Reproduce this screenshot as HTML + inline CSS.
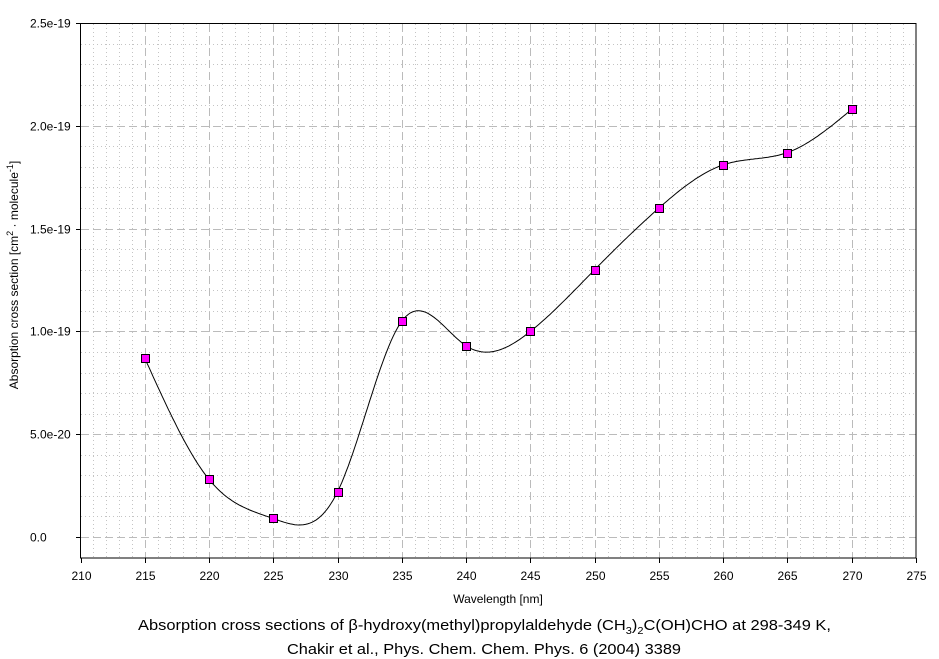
<!DOCTYPE html>
<html><head><meta charset="utf-8"><style>
html,body{margin:0;padding:0;background:#fff;}
svg{display:block;font-family:"Liberation Sans",Arial,sans-serif;}
</style></head><body>
<svg id="s" width="939" height="659" xmlns="http://www.w3.org/2000/svg">
<rect width="939" height="659" fill="#fff"/>
<g id="grid"></g>
<rect x="80.5" y="23.5" width="835.5" height="534.5" fill="none" stroke="#000" stroke-width="1"/>
<g id="ticks" font-size="12" fill="#000"></g>
<path id="curve" fill="none" stroke="#000" stroke-width="1"/>
<g id="marks"></g>
<text x="0" y="0" font-size="12" transform="translate(18,275) rotate(-90)" text-anchor="middle">Absorption cross section [cm<tspan font-size="9" dy="-5">2</tspan><tspan dy="5"> · molecule</tspan><tspan font-size="9" dy="-5">-1</tspan><tspan dy="5">]</tspan></text>
<text x="498" y="603" font-size="12" text-anchor="middle">Wavelength [nm]</text>
<text x="138" y="630" font-size="15" textLength="693" lengthAdjust="spacingAndGlyphs">Absorption cross sections of β-hydroxy(methyl)propylaldehyde (CH<tspan font-size="10" dy="4">3</tspan><tspan dy="-4">)</tspan><tspan font-size="10" dy="4">2</tspan><tspan dy="-4">C(OH)CHO at 298-349 K,</tspan></text>
<text x="484" y="654" font-size="15" text-anchor="middle" textLength="394" lengthAdjust="spacingAndGlyphs">Chakir et al., Phys. Chem. Chem. Phys. 6 (2004) 3389</text>
</svg>
<script>
var NS="http://www.w3.org/2000/svg";
function X(v){return 80.5+(v-210)*(835.5/65);}
function Y(v){return 537-v/2.5e-19*514;}
function el(p,t,a,txt){var e=document.createElementNS(NS,t);for(var k in a)e.setAttribute(k,a[k]);if(txt!==undefined)e.textContent=txt;document.getElementById(p).appendChild(e);return e;}
for(var w=211;w<275;w++){if(w%5==0)continue;var x=Math.round(X(w))+0.5;el("grid","line",{x1:x,x2:x,y1:24,y2:558,stroke:"#c4c4c4","stroke-dasharray":"1,3"});}
for(var i=-1;i<=24;i++){if(i%5==0)continue;var y=Math.round(Y(i*1e-20))+0.5;if(y<24||y>558)continue;el("grid","line",{x1:81,x2:916,y1:y,y2:y,stroke:"#c4c4c4","stroke-dasharray":"1,3"});}
for(var w=215;w<275;w+=5){var x=Math.round(X(w))+0.5;el("grid","line",{x1:x,x2:x,y1:24,y2:558,stroke:"#bbb","stroke-dasharray":"8,4"});}
for(var i=0;i<5;i++){var y=Math.round(Y(i*5e-20))+0.5;el("grid","line",{x1:81,x2:916,y1:y,y2:y,stroke:"#bbb","stroke-dasharray":"8,4"});}
for(var w=210;w<=275;w+=5){var x=Math.round(X(w))+0.5;el("ticks","line",{x1:x,x2:x,y1:558,y2:563,stroke:"#000"});el("ticks","text",{x:x,y:580,"text-anchor":"middle"},String(w));}
var yl=["0.0","5.0e-20","1.0e-19","1.5e-19","2.0e-19","2.5e-19"];
for(var i=0;i<=5;i++){var y=Math.round(Y(i*5e-20))+0.5;el("ticks","line",{x1:76,x2:80,y1:y,y2:y,stroke:"#000"});el("ticks","text",{x:30,y:y+4,"text-anchor":"start"},yl[i]);}
var xs=[215,220,225,230,235,240,245,250,255,260,265,270];
var ys=[8.7,2.8,0.9,2.2,10.5,9.3,10.0,13.0,16.0,18.1,18.7,20.8].map(function(v){return v*1e-20;});
var n=xs.length,h=[],al=[],l=[1],mu=[0],z=[0],c=new Array(n).fill(0),b=[],d=[];
for(var i=0;i<n-1;i++)h[i]=xs[i+1]-xs[i];
for(var i=1;i<n-1;i++)al[i]=3/h[i]*(ys[i+1]-ys[i])-3/h[i-1]*(ys[i]-ys[i-1]);
for(var i=1;i<n-1;i++){l[i]=2*(xs[i+1]-xs[i-1])-h[i-1]*mu[i-1];mu[i]=h[i]/l[i];z[i]=(al[i]-h[i-1]*z[i-1])/l[i];}
l[n-1]=1;z[n-1]=0;c[n-1]=0;
for(var j=n-2;j>=0;j--){c[j]=z[j]-mu[j]*c[j+1];b[j]=(ys[j+1]-ys[j])/h[j]-h[j]*(c[j+1]+2*c[j])/3;d[j]=(c[j+1]-c[j])/(3*h[j]);}
var p="M"+X(xs[0]).toFixed(1)+","+Y(ys[0]).toFixed(1);
for(var j=0;j<n-1;j++){for(var k=1;k<=30;k++){var t=h[j]*k/30;var v=ys[j]+b[j]*t+c[j]*t*t+d[j]*t*t*t;p+=" L"+X(xs[j]+t).toFixed(1)+","+Y(v).toFixed(1);}}
document.getElementById("curve").setAttribute("d",p);
for(var i=0;i<n;i++){el("marks","rect",{x:Math.round(X(xs[i]))-3.5,y:Math.round(Y(ys[i]))-3.5,width:8,height:8,fill:"#ff00ff",stroke:"#000"});}
</script>
</body></html>
